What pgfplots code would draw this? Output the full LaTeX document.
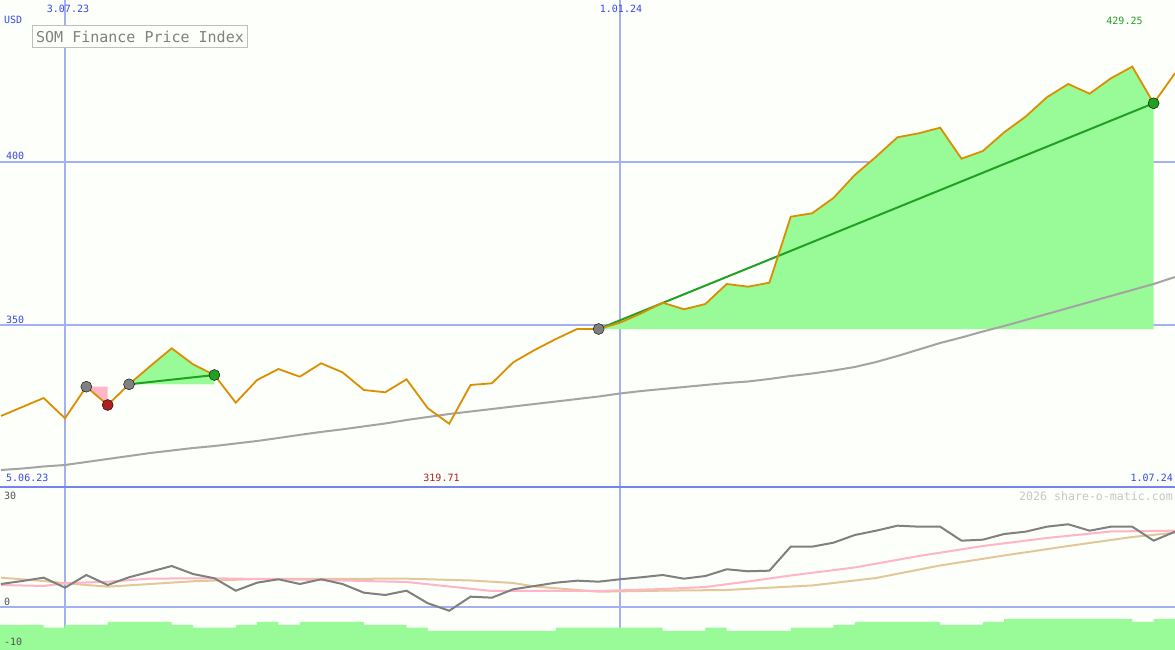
\documentclass[border=0pt]{standalone}
\usepackage{pgfplots}
\usepackage{pgfplotstable}
\pgfplotsset{compat=1.18}
\usepackage{fontspec}
\setmainfont{DejaVu Sans Mono}
\setmonofont{DejaVu Sans Mono}

\definecolor{bg}{HTML}{FCFFFA}
\definecolor{gridblue}{HTML}{A4B0F2}
\definecolor{sepblue}{HTML}{7484EA}
\definecolor{labblue}{HTML}{3848E8}
\definecolor{priceor}{HTML}{DA8E00}
\definecolor{fillgreen}{HTML}{98FB98}
\definecolor{trendgreen}{HTML}{22A022}
\definecolor{losspink}{HTML}{FFB6C8}
\definecolor{lossred}{HTML}{B02020}
\definecolor{markgray}{HTML}{808080}
\definecolor{magray}{HTML}{A4A4A4}
\definecolor{oscgray}{HTML}{808080}
\definecolor{oscpink}{HTML}{FFB4C8}
\definecolor{osctan}{HTML}{E2C898}

% weekly closes, k = weeks after 3.07.23
\pgfplotstableread{
k p
-3 322.09
-2 324.85
-1 327.61
0 321.38
1 331.07
2 325.46
3 331.81
4 337.42
5 342.85
6 337.94
7 334.66
8 326.17
9 333.13
10 336.50
11 334.14
12 338.25
13 335.49
14 330.06
15 329.36
16 333.34
17 324.45
18 319.71
19 331.60
20 332.12
21 338.56
22 342.33
23 345.71
24 348.80
25 348.77
26 350.71
27 353.59
28 356.84
29 354.82
30 356.44
31 362.58
32 361.75
33 362.98
34 383.22
35 384.26
36 388.96
37 396.01
38 401.63
39 407.58
40 408.80
41 410.52
42 401.01
43 403.37
44 409.11
45 413.90
46 419.85
47 423.93
48 420.95
49 425.67
50 429.25
51 418.01
52 427.21
}\price

\pgfplotstableread{
k m
-3 305.52
-2 305.98
-1 306.60
0 307.06
1 307.98
2 308.90
3 309.82
4 310.74
5 311.50
6 312.27
7 312.88
8 313.65
9 314.42
10 315.34
11 316.30
12 317.20
13 318.00
14 318.90
15 319.79
16 320.86
17 321.78
18 322.70
19 323.47
20 324.23
21 325.00
22 325.77
23 326.53
24 327.30
25 328.07
26 328.99
27 329.75
28 330.37
29 330.98
30 331.60
31 332.21
32 332.67
33 333.44
34 334.36
35 335.12
36 336.04
37 337.12
38 338.65
39 340.49
40 342.48
41 344.48
42 346.17
43 348.01
44 349.69
45 351.53
46 353.37
47 355.21
48 357.06
49 358.90
50 360.74
51 362.58
52 364.72
}\ma

\pgfplotstableread{
k v
-3 5.75
-2 6.50
-1 7.33
0 4.83
1 8.00
2 5.50
3 7.43
4 8.83
5 10.25
6 8.25
7 7.18
8 4.08
9 6.08
10 6.93
11 5.75
12 6.93
13 5.75
14 3.58
15 3.00
16 4.08
17 0.93
18 -0.93
19 2.58
20 2.33
21 4.43
22 5.25
23 6.08
24 6.58
25 6.33
26 6.93
27 7.43
28 8.00
29 7.08
30 7.75
31 9.43
32 8.93
33 9.08
34 15.08
35 15.08
36 16.08
37 18.00
38 19.08
39 20.33
40 20.08
41 20.08
42 16.58
43 16.83
44 18.25
45 18.83
46 20.08
47 20.68
48 19.08
49 20.08
50 20.08
51 16.58
52 18.83
}\osc

\pgfplotstableread{
k v
-3 5.50
-1 5.25
0 5.93
2 6.33
4 7.10
7 7.18
12 6.75
16 6.25
18 5.13
20 4.00
25 4.00
28 4.50
30 5.00
32 6.38
34 7.88
37 9.88
40 12.75
43 15.25
46 17.25
49 18.88
52 19.08
}\oscpk

\pgfplotstableread{
k v
-3 7.33
-1 6.50
0 5.93
2 5.08
4 5.75
6 6.43
9 7.00
16 7.08
19 6.63
21 6.00
22 5.13
24 4.25
25 3.83
28 4.08
31 4.25
33 4.83
35 5.38
38 7.25
41 10.38
44 12.88
47 15.25
50 17.50
52 18.58
}\osctn

\pgfplotsset{panel/.style={
  scale only axis, width=1175pt,
  xmin=-3.045, xmax=52,
  axis line style={draw=none}, tick style={draw=none},
  xtick={0,26}, xticklabels={}, yticklabels={},
  grid=major, major grid style={gridblue, line width=1.6pt}
}}

\begin{document}
\begin{tikzpicture}[x=1pt,y=1pt]
\useasboundingbox (0,0) rectangle (1175,650);
\fill[bg] (0,0) rectangle (1175,650);

\begin{axis}[panel, at={(0pt,163pt)}, anchor=south west, height=487pt,
  ymin=300.31, ymax=449.69, ytick={350,400}]
  % trade areas
  \addplot[fill=fillgreen, draw=none] coordinates {(25,348.77) (26,350.71) (27,353.59) (28,356.84) (29,354.82) (30,356.44) (31,362.58) (32,361.75) (33,362.98) (34,383.22) (35,384.26) (36,388.96) (37,396.01) (38,401.63) (39,407.58) (40,408.80) (41,410.52) (42,401.01) (43,403.37) (44,409.11) (45,413.90) (46,419.85) (47,423.93) (48,420.95) (49,425.67) (50,429.25) (51,418.01) (51,348.77)};
  \addplot[fill=fillgreen, draw=none] coordinates {(3,331.81) (4,337.42) (5,342.85) (6,337.94) (7,334.66) (7,331.81)};
  \addplot[fill=losspink, draw=none] coordinates {(1,331.07) (2,325.46) (2,331.07)};
  % long moving average
  \addplot[magray, line width=2pt] table[x=k, y=m] {\ma};
  % trend lines of the trades
  \addplot[trendgreen, line width=2pt] coordinates {(3,331.81) (7,334.66)};
  \addplot[trendgreen, line width=2pt] coordinates {(25,348.77) (51,418.01)};
  % trade markers
  \addplot[only marks, mark=*, mark size=5.5pt, mark options={fill=markgray, draw=none}] coordinates {(1,331.07) (3,331.81) (25,348.77)};
  \addplot[only marks, mark=*, mark size=5.5pt, mark options={fill=lossred, draw=none}] coordinates {(2,325.46)};
  \addplot[only marks, mark=*, mark size=5.5pt, mark options={fill=trendgreen, draw=none}] coordinates {(7,334.66) (51,418.01)};
  % price
  \addplot[priceor, line width=1.8pt] table[x=k, y=p] {\price};
\end{axis}

\begin{axis}[panel, at={(0pt,0pt)}, anchor=south west, height=163pt,
  ymin=-10.75, ymax=30, ytick={0}]
  \addplot[const plot, fill=fillgreen, draw=none] coordinates {(-3.045,-4.5) (-1,-5.17) (0,-4.5) (2,-3.75) (5,-4.5) (6,-5.17) (8,-4.5) (9,-3.75) (10,-4.5) (11,-3.75) (14,-4.5) (16,-5.17) (17,-6) (23,-5.17) (28,-6) (30,-5.17) (31,-6) (34,-5.17) (36,-4.5) (37,-3.75) (41,-4.5) (43,-3.75) (44,-3) (50,-3.75) (51,-3) (52,-3) (52,-10.75) (-3.045,-10.75)};
  \addplot[osctan, line width=2pt] table[x=k, y=v] {\osctn};
  \addplot[oscpink, line width=2pt] table[x=k, y=v] {\oscpk};
  \addplot[oscgray, line width=2pt] table[x=k, y=v] {\osc};
\end{axis}

\draw[sepblue, line width=2.2pt] (0,163) -- (1175,163);

\begin{scope}[every node/.style={inner sep=0pt, font=\fontsize{10}{12}\selectfont}]
  \node[anchor=west, text=labblue] at (4,630) {USD};
  \node[text=labblue] at (68,641) {3.07.23};
  \node[text=labblue] at (621,641) {1.01.24};
  \node[anchor=west, text=labblue] at (6,494) {400};
  \node[anchor=west, text=labblue] at (6,330) {350};
  \node[anchor=west, text=labblue] at (6,172) {5.06.23};
  \node[text=lossred] at (441.5,172) {319.71};
  \node[anchor=east, text=labblue] at (1173,172) {1.07.24};
  \node[text=trendgreen] at (1124.5,629) {429.25};
  \node[anchor=east, text=black!22, font=\fontsize{11.6}{13}\selectfont] at (1173,154) {2026 share-o-matic.com};
  \node[anchor=west, text=black!68] at (4,154) {30};
  \node[anchor=west, text=black!68] at (4,48) {0};
  \node[anchor=west, text=black!68] at (4,8) {-10};
  \node[draw=black!25, line width=1.6pt, fill=bg, minimum width=215pt, minimum height=22pt,
        text=black!50, font=\fontsize{15}{18}\selectfont] at (140,613.5) {SOM Finance Price Index};
\end{scope}
\end{tikzpicture}
\end{document}
